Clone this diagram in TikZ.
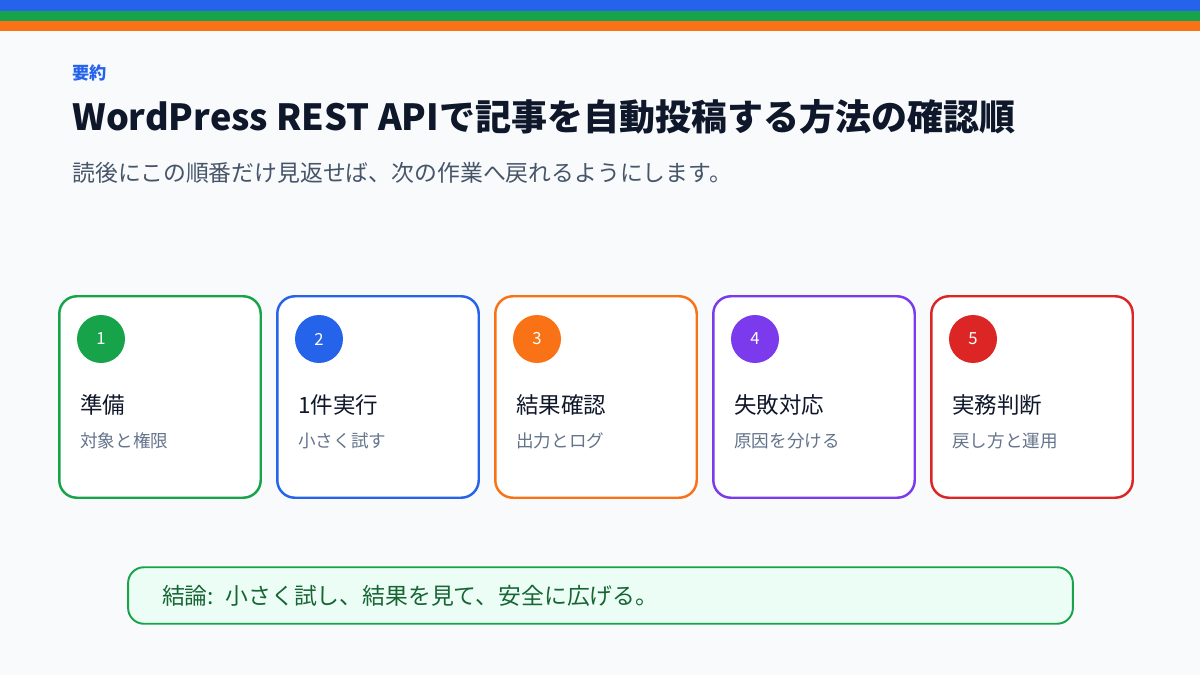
\documentclass[tikz,border=0pt]{standalone}
\usepackage{fontspec}
\setmainfont{Noto Sans CJK JP}
\usetikzlibrary{positioning,calc}
\definecolor{pagebg}{HTML}{F8FAFC}
\definecolor{ink}{HTML}{0F172A}
\definecolor{slate}{HTML}{475569}
\definecolor{muted}{HTML}{64748B}
\definecolor{stepblue}{HTML}{2563EB}
\definecolor{stepgreen}{HTML}{16A34A}
\definecolor{steporange}{HTML}{F97316}
\definecolor{steppurple}{HTML}{7C3AED}
\definecolor{stepred}{HTML}{DC2626}
\definecolor{mint}{HTML}{ECFDF5}
\definecolor{forest}{HTML}{166534}

\begin{document}
\begin{tikzpicture}[x=0.02cm, y=-0.02cm,
    card/.style={draw, fill=white, line width=1.4pt, rounded corners=10pt,
        minimum width=4.03cm, minimum height=4.03cm, inner sep=0pt},
    numdot/.style={circle, minimum size=0.96cm, inner sep=0pt, text=white,
        font=\fontsize{9.5}{10}\selectfont},
    cardtitle/.style={anchor=west, inner sep=0pt, text=ink,
        font=\fontsize{12.8}{14}\selectfont},
    cardsub/.style={anchor=west, inner sep=0pt, text=muted,
        font=\fontsize{10}{12}\selectfont}]

    % page and top stripes
    \fill[pagebg] (0,0) rectangle (1200,675);
    \fill[stepblue] (0,0) rectangle (1200,11);
    \fill[stepgreen] (0,11) rectangle (1200,21);
    \fill[steporange] (0,21) rectangle (1200,31);

    % header
    \node[anchor=west, inner sep=0pt, text=stepblue, font=\bfseries\fontsize{9.8}{11}\selectfont]
        (kicker) at (72,73) {要約};
    \node[anchor=west, inner sep=0pt, text=ink, font=\bfseries\fontsize{20.5}{23}\selectfont]
        (title) at (72,117) {WordPress REST APIで記事を自動投稿する方法の確認順};
    \node[anchor=west, inner sep=0pt, text=slate, font=\fontsize{13}{15}\selectfont]
        (subtitle) at (72,173) {読後にこの順番だけ見返せば、次の作業へ戻れるようにします。};

    % step cards
    \foreach \i/\cx/\col/\head/\note in {
        1/160/stepgreen/準備/対象と権限,
        2/378/stepblue/1件実行/小さく試す,
        3/596/steporange/結果確認/出力とログ,
        4/814/steppurple/失敗対応/原因を分ける,
        5/1032/stepred/実務判断/戻し方と運用} {
        \node[card, draw=\col] (card\i) at (\cx,397) {};
        \node[numdot, fill=\col] (dot\i) at ($(card\i.center)+(-59,-58)$) {\i};
        \node[cardtitle] (head\i) at ($(card\i.center)+(-80,8)$) {\head};
        \node[cardsub] (note\i) at ($(card\i.center)+(-80,44)$) {\note};
    }

    % conclusion
    \node[draw=stepgreen, fill=mint, line width=1.1pt, rounded corners=9pt,
        text width=17.54cm, align=left, inner xsep=0.68cm, minimum height=1.13cm,
        text=forest, font=\fontsize{13}{15}\selectfont]
        (summary) at (600.5,595.5) {結論: 小さく試し、結果を見て、安全に広げる。};

\end{tikzpicture}
\end{document}
